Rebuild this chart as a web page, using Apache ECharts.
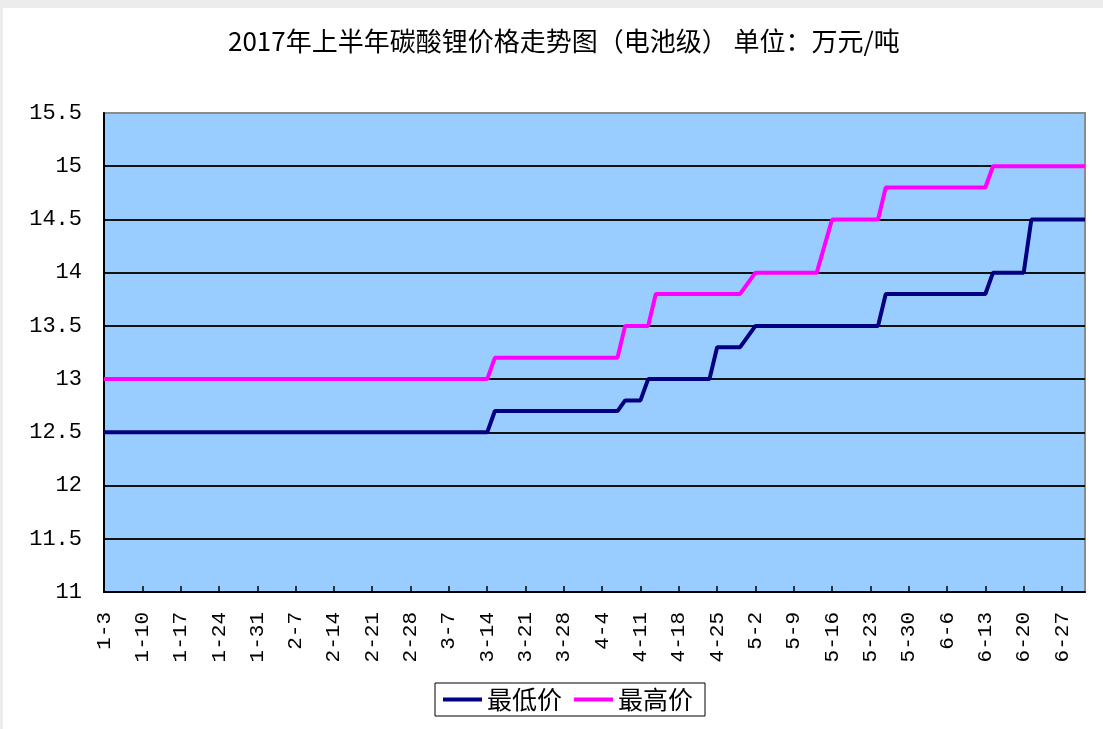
<!DOCTYPE html>
<html>
<head>
<meta charset="utf-8">
<title>碳酸锂价格走势</title>
<script src="https://cdn.jsdelivr.net/npm/echarts@6/dist/echarts.min.js"></script>
<style>
  html, body { margin: 0; padding: 0; background: #ececec; }
  #chart { position: absolute; left: 3px; top: 8px; width: 1100px; height: 721px; background: #fff; }
</style>
</head>
<body>
<div id="chart"></div>
<script>
// 交易日（周一至周五），2017-1-3 ~ 2017-6-30
var categories = [];
(function () {
  var d = new Date(2017, 0, 3);
  var end = new Date(2017, 5, 30);
  while (d <= end) {
    var wd = d.getDay();
    if (wd !== 0 && wd !== 6) categories.push((d.getMonth() + 1) + "-" + d.getDate());
    d.setDate(d.getDate() + 1);
  }
})();

// 每行一周（周二 ~ 下周一）
var lowPrice = [
  12.5, 12.5, 12.5, 12.5, 12.5,
  12.5, 12.5, 12.5, 12.5, 12.5,
  12.5, 12.5, 12.5, 12.5, 12.5,
  12.5, 12.5, 12.5, 12.5, 12.5,
  12.5, 12.5, 12.5, 12.5, 12.5,
  12.5, 12.5, 12.5, 12.5, 12.5,
  12.5, 12.5, 12.5, 12.5, 12.5,
  12.5, 12.5, 12.5, 12.5, 12.5,
  12.5, 12.5, 12.5, 12.5, 12.5,
  12.5, 12.5, 12.5, 12.5, 12.5,
  12.5, 12.7, 12.7, 12.7, 12.7,
  12.7, 12.7, 12.7, 12.7, 12.7,
  12.7, 12.7, 12.7, 12.7, 12.7,
  12.7, 12.7, 12.7, 12.8, 12.8,
  12.8, 13.0, 13.0, 13.0, 13.0,
  13.0, 13.0, 13.0, 13.0, 13.0,
  13.3, 13.3, 13.3, 13.3, null,
  13.5, 13.5, 13.5, 13.5, 13.5,
  13.5, 13.5, 13.5, 13.5, 13.5,
  13.5, 13.5, 13.5, 13.5, 13.5,
  13.5, 13.5, 13.8, 13.8, 13.8,
  13.8, 13.8, 13.8, 13.8, 13.8,
  13.8, 13.8, 13.8, 13.8, 13.8,
  13.8, 14.0, 14.0, 14.0, 14.0,
  14.0, 14.5, 14.5, 14.5, 14.5,
  14.5, 14.5, 14.5, 14.5
];

var highPrice = [
  13.0, 13.0, 13.0, 13.0, 13.0,
  13.0, 13.0, 13.0, 13.0, 13.0,
  13.0, 13.0, 13.0, 13.0, 13.0,
  13.0, 13.0, 13.0, 13.0, 13.0,
  13.0, 13.0, 13.0, 13.0, 13.0,
  13.0, 13.0, 13.0, 13.0, 13.0,
  13.0, 13.0, 13.0, 13.0, 13.0,
  13.0, 13.0, 13.0, 13.0, 13.0,
  13.0, 13.0, 13.0, 13.0, 13.0,
  13.0, 13.0, 13.0, 13.0, 13.0,
  13.0, 13.2, 13.2, 13.2, 13.2,
  13.2, 13.2, 13.2, 13.2, 13.2,
  13.2, 13.2, 13.2, 13.2, 13.2,
  13.2, 13.2, 13.2, 13.5, 13.5,
  13.5, 13.5, 13.8, 13.8, 13.8,
  13.8, 13.8, 13.8, 13.8, 13.8,
  13.8, 13.8, 13.8, 13.8, null,
  14.0, 14.0, 14.0, 14.0, 14.0,
  14.0, 14.0, 14.0, 14.0, null,
  14.5, 14.5, 14.5, 14.5, 14.5,
  14.5, 14.5, 14.8, 14.8, 14.8,
  14.8, 14.8, 14.8, 14.8, 14.8,
  14.8, 14.8, 14.8, 14.8, 14.8,
  14.8, 15.0, 15.0, 15.0, 15.0,
  15.0, 15.0, 15.0, 15.0, 15.0,
  15.0, 15.0, 15.0, 15.0
];

var seriesNames = ["最低价", "最高价"];

var myChart = echarts.init(document.getElementById("chart"));
var axisFont = "Liberation Mono";
var option = {
  animation: false,
  title: {
    text: "2017年上半年碳酸锂价格走势图（电池级） 单位：万元/吨",
    left: 225,
    top: 20,
    padding: 0,
    textStyle: {
      fontFamily: "Noto Sans CJK SC",
      fontSize: 26,
      fontWeight: "normal",
      color: "#000"
    }
  },
  legend: {
    data: seriesNames,
    left: 432,
    top: 675,
    icon: "rect",
    itemWidth: 39,
    itemHeight: 4,
    itemGap: 12,
    padding: [4, 12, 4, 8],
    borderColor: "#000",
    borderWidth: 1,
    textStyle: {
      fontFamily: "Noto Sans CJK SC",
      fontSize: 25,
      color: "#000"
    }
  },
  grid: {
    left: 101,
    right: 18,
    top: 105,
    bottom: 137,
    show: true,
    backgroundColor: "#99ccff",
    borderColor: "#8c8c8c",
    borderWidth: 2
  },
  xAxis: {
    type: "category",
    data: categories,
    boundaryGap: false,
    axisLine: { lineStyle: { color: "#000", width: 2 } },
    axisTick: { inside: true, length: 6, interval: 4, lineStyle: { color: "#000", width: 1.5 } },
    axisLabel: {
      interval: 4,
      rotate: 90,
      margin: 20,
      fontFamily: axisFont,
      fontSize: 21,
      color: "#000"
    },
    splitLine: { show: false }
  },
  yAxis: {
    type: "value",
    min: 11,
    max: 15.5,
    interval: 0.5,
    axisLine: { show: true, lineStyle: { color: "#000", width: 2 } },
    axisTick: { show: false },
    axisLabel: {
      margin: 22,
      padding: [6, 0, 0, 0],
      fontFamily: axisFont,
      fontSize: 22,
      color: "#000"
    },
    splitLine: {
      lineStyle: {
        color: ["#000", "#111", "#111", "#111", "#111", "#111", "#111", "#111", "#111", "#8c8c8c"],
        width: 2
      }
    }
  },
  series: [
    {
      name: seriesNames[0],
      type: "line",
      data: lowPrice,
      showSymbol: false,
      connectNulls: true,
      color: "#000080",
      lineStyle: { width: 4, color: "#000080" }
    },
    {
      name: seriesNames[1],
      type: "line",
      data: highPrice,
      showSymbol: false,
      connectNulls: true,
      color: "#ff00ff",
      lineStyle: { width: 4, color: "#ff00ff" }
    }
  ]
};
myChart.setOption(option);
</script>
</body>
</html>
